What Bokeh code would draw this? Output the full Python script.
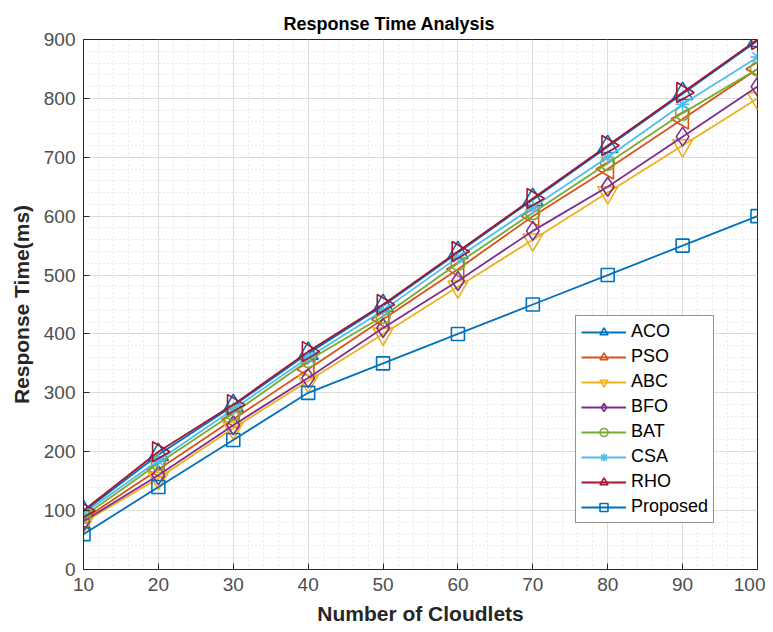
import math
from bokeh.plotting import figure
from bokeh.models import SingleIntervalTicker, Range1d, Legend, LegendItem
from bokeh.embed import file_html
from bokeh.resources import INLINE

cloudlets = [10, 20, 30, 40, 50, 60, 70, 80, 90, 100]
aco = [98, 195, 278, 367, 448, 538, 628, 718, 808, 898]
pso = [85, 170, 255, 340, 425, 510, 600, 680, 765, 850]
abc = [80, 155, 240, 320, 400, 480, 560, 640, 720, 800]
bfo = [82, 160, 245, 325, 410, 490, 575, 650, 735, 820]
bat = [90, 180, 265, 355, 430, 520, 606, 690, 775, 850]
csa = [95, 185, 272, 360, 440, 530, 615, 700, 790, 870]
rho = [100, 200, 280, 370, 450, 540, 630, 720, 810, 900]
proposed = [60, 140, 220, 300, 350, 400, 450, 500, 550, 600]

series = [
    ("ACO", aco, "#0072BD", "triangle", 0.0, 20),
    ("PSO", pso, "#D95319", "triangle", math.pi / 2, 20),
    ("ABC", abc, "#EDB120", "inverted_triangle", 0.0, 20),
    ("BFO", bfo, "#7E2F8E", "diamond", 0.0, 19),
    ("BAT", bat, "#77AC30", "circle", 0.0, 14),
    ("CSA", csa, "#4DBEEE", "asterisk", 0.0, 14),
    ("RHO", rho, "#A2142F", "triangle", -math.pi / 2, 20),
    ("Proposed", proposed, "#0072BD", "square", 0.0, 13),
]

FONT = "Liberation Sans"

p = figure(width=765, height=630, output_backend="svg", toolbar_location=None,
           x_range=Range1d(10, 100), y_range=Range1d(0, 900),
           title="Response Time Analysis",
           x_axis_label="Number of Cloudlets", y_axis_label="Response Time(ms)",
           min_border_left=83, min_border_right=8, min_border_top=39, min_border_bottom=61)

p.title.align = "left"
p.title.offset = 200
p.title.text_font = FONT
p.title.text_font_size = "18px"
p.title.text_font_style = "bold"
p.title.text_color = "#000000"
p.title.standoff = 11

p.outline_line_color = "#262626"
p.outline_line_width = 1
p.background_fill_color = "#ffffff"

p.xaxis.ticker = SingleIntervalTicker(interval=10, num_minor_ticks=5)
p.yaxis.ticker = SingleIntervalTicker(interval=100, num_minor_ticks=5)

for ax in (p.xaxis[0], p.yaxis[0]):
    ax.axis_label_text_font = FONT
    ax.axis_label_text_font_size = "21px"
    ax.axis_label_text_font_style = "bold"
    ax.axis_label_text_color = "#262626"
    ax.major_label_text_font = FONT
    ax.major_label_text_font_size = "19px"
    ax.major_label_text_color = "#4d4d4d"
    ax.major_label_standoff = 8
    ax.axis_line_color = "#262626"
    ax.major_tick_in = 6
    ax.major_tick_out = 0
    ax.minor_tick_in = 0
    ax.minor_tick_out = 0
    ax.major_tick_line_color = "#262626"
p.xaxis.axis_label_standoff = 8
p.yaxis.axis_label_standoff = 8

for g in (p.xgrid[0], p.ygrid[0]):
    g.grid_line_color = "#dcdcdc"
    g.grid_line_width = 1
    g.minor_grid_line_color = "#d4d4d4"
    g.minor_grid_line_dash = "1 3"
    g.minor_grid_line_width = 1

items = []
for name, vals, color, marker, ang, sz in series:
    r1 = p.line(cloudlets, vals, line_color=color, line_width=1.8)
    r2 = p.scatter(cloudlets, vals, marker=marker, angle=ang, size=sz,
                   line_color=color, line_width=1.6, fill_alpha=0)
    items.append(LegendItem(label=name, renderers=[r1, r2]))

legend = Legend(items=items, location=(492, 46))
legend.label_text_font = FONT
legend.label_text_font_size = "18px"
legend.label_text_color = "#000000"
legend.border_line_color = "#262626"
legend.border_line_width = 1
legend.background_fill_alpha = 1
legend.glyph_width = 45
legend.glyph_height = 20
legend.label_height = 20
legend.spacing = 4
legend.padding = 5
legend.margin = 0
legend.label_standoff = 5
p.add_layout(legend, "center")

open("out.html", "w").write(file_html(p, INLINE))
